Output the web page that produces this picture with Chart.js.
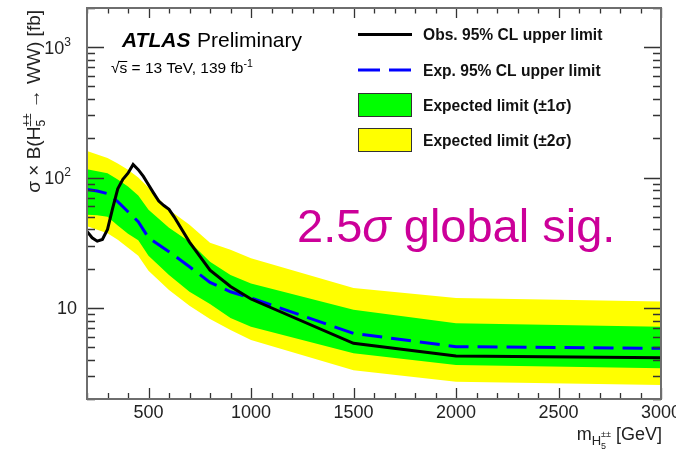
<!DOCTYPE html>
<html>
<head>
<meta charset="utf-8">
<script src="https://cdn.jsdelivr.net/npm/chart.js@4.4.1/dist/chart.umd.min.js"></script>
<style>
  html, body { margin: 0; padding: 0; background: #fff; }
  #wrap { width: 676px; height: 454px; }
</style>
</head>
<body>
<div id="wrap"><canvas id="limitChart" width="676" height="454"></canvas></div>
<script>
// --- Limit data (fb) ---
// mass points for the expected limit and its bands
const massPoints  = [200, 250, 300, 350, 400, 450, 500, 600, 700, 800, 900, 1000, 1500, 2000, 3000];
const expLimit    = [80.9, 78.8, 75.3, 65.4, 54.7, 45.9, 34.5, 27.0, 20.7, 15.7, 13.3, 11.9, 6.38, 5.04, 4.9];
const plus1Sigma  = [116, 112, 108, 96.5, 85.3, 72.7, 56.7, 41.2, 32.2, 22.6, 17.9, 15.4, 9.66, 7.62, 7.18];
const minus1Sigma = [51.9, 51.5, 50.1, 42.8, 37.1, 33.1, 25.1, 17.9, 13.3, 10.7, 8.37, 7.18, 4.49, 3.65, 3.44];
const plus2Sigma  = [160, 150, 141, 128, 115, 100, 83.8, 56.7, 43.5, 31.6, 27.9, 24.0, 14.2, 11.9, 11.2];
const minus2Sigma = [42.4, 39.8, 37.4, 33.4, 29.0, 25.1, 19.3, 13.7, 10.4, 8.22, 6.78, 5.67, 3.33, 2.71, 2.56];

// observed limit is sampled more finely at low mass
const obsMass  = [200, 225, 250, 275, 300, 325, 350, 375, 400, 425, 450, 475, 500, 525, 550, 575, 600, 625, 700, 800, 900, 1000, 1500, 2000, 3000];
const obsLimit = [38.6, 34.5, 32.5, 33.5, 40, 58, 82, 97, 108, 126, 115, 102, 88, 76, 66, 61, 57, 50, 32, 19.5, 14.6, 11.7, 5.35, 4.27, 4.15];

// axis ticks
const xMajorTicks = [500, 1000, 1500, 2000, 2500, 3000];
const yMajorTicks = [10, 100, 1000];
const yTickLabels = [['10', ''], ['10', '2'], ['10', '3']];

const xMinorTicks = [];
for (let m = 200; m <= 3000; m += 100) if (m % 500 !== 0) xMinorTicks.push(m);
const yMinorTicks = [];
[1, 10, 100, 1000].forEach(d => {
    for (let k = 2; k <= 9; k++) if (d * k <= 2000) yMinorTicks.push(d * k);
});

const FONT = '"Liberation Sans", Arial, Helvetica, sans-serif';

function toPoints(xs, ys) {
    return xs.map((x, i) => ({ x: x, y: ys[i] }));
}

// draws a run of text pieces with different sizes / offsets (sub- and superscripts)
function drawRich(ctx, parts, x, y, align) {
    const fontOf = p => `${p.italic ? 'italic ' : ''}${p.bold ? 'bold ' : ''}${p.size}px ${FONT}`;
    let total = 0;
    parts.forEach(p => {
        ctx.font = fontOf(p);
        if (!p.stack) total += ctx.measureText(p.t).width;
    });
    let cx = align === 'right' ? x - total : x;
    ctx.textAlign = 'left';
    ctx.textBaseline = 'alphabetic';
    parts.forEach(p => {
        ctx.font = fontOf(p);
        ctx.fillText(p.t, cx, y + (p.dy || 0));
        if (!p.stack) cx += ctx.measureText(p.t).width;
    });
}

// --- ROOT-style frame, inward ticks and all annotation text ---
const rootFrame = {
    id: 'rootFrame',
    afterDatasetsDraw(chart) {
        const { ctx, chartArea: a, scales: { x, y } } = chart;
        ctx.save();

        // ticks on all four sides, pointing into the frame
        ctx.strokeStyle = '#333';
        ctx.lineWidth = 1.3;
        ctx.beginPath();
        const xTick = (v, len) => {
            const px = Math.round(x.getPixelForValue(v)) + 0.5;
            ctx.moveTo(px, a.bottom); ctx.lineTo(px, a.bottom - len);
            ctx.moveTo(px, a.top); ctx.lineTo(px, a.top + len * 0.9);
        };
        const yTick = (v, len) => {
            const py = Math.round(y.getPixelForValue(v)) + 0.5;
            ctx.moveTo(a.left, py); ctx.lineTo(a.left + len, py);
            ctx.moveTo(a.right, py); ctx.lineTo(a.right - len, py);
        };
        xMinorTicks.forEach(v => xTick(v, 6));
        xMajorTicks.forEach(v => xTick(v, 11));
        yMinorTicks.forEach(v => yTick(v, 8));
        yMajorTicks.forEach(v => yTick(v, 17));
        ctx.stroke();

        // frame
        ctx.strokeStyle = '#6e6e6e';
        ctx.lineWidth = 2;
        ctx.strokeRect(a.left, a.top, a.right - a.left, a.bottom - a.top);

        // tick labels
        ctx.fillStyle = '#222';
        ctx.font = `18px ${FONT}`;
        ctx.textAlign = 'center';
        ctx.textBaseline = 'alphabetic';
        xMajorTicks.forEach(v => ctx.fillText(String(v), x.getPixelForValue(v), 418));

        yMajorTicks.forEach((v, i) => {
            const py = y.getPixelForValue(v);
            const [base, exp] = yTickLabels[i];
            if (exp) {
                drawRich(ctx, [
                    { t: base, size: 18 },
                    { t: exp, size: 12, dy: -8 }
                ], 71, py + 6.5, 'right');
            } else {
                drawRich(ctx, [{ t: base, size: 18 }], 77, py + 6.5, 'right');
            }
        });

        // axis titles
        ctx.fillStyle = '#222';
        drawRich(ctx, [
            { t: 'm', size: 18 },
            { t: 'H', size: 13, dy: 5 },
            { t: '5', size: 9, dy: 9, stack: true },
            { t: '±±', size: 9, dy: -3 },
            { t: ' [GeV]', size: 18 }
        ], 662, 440, 'right');

        ctx.save();
        ctx.translate(40, 10);
        ctx.rotate(-Math.PI / 2);
        drawRich(ctx, [
            { t: 'σ × B(H', size: 19 },
            { t: '5', size: 12, dy: 5, stack: true },
            { t: '±±', size: 12, dy: -9 },
            { t: ' → WW) [fb]', size: 19 }
        ], 0, 0, 'right');
        ctx.restore();

        // experiment label
        ctx.fillStyle = '#000';
        drawRich(ctx, [{ t: 'ATLAS', size: 21, bold: true, italic: true }], 122, 47);
        drawRich(ctx, [{ t: 'Preliminary', size: 21 }], 197, 47);
        ctx.font = `15.5px ${FONT}`;
        ctx.fillText('√', 111, 73);
        const rw = ctx.measureText('√').width;
        const sw = ctx.measureText('s').width;
        ctx.fillRect(111 + rw - 1, 61, sw + 1, 1);
        drawRich(ctx, [
            { t: 's = 13 TeV, 139 fb', size: 15.5 },
            { t: '-1', size: 10.5, dy: -6 }
        ], 111 + rw, 73);

        // legend
        const lx0 = 358, lx1 = 412, tx = 423;
        const rows = [34.5, 70, 105, 140];
        ctx.lineWidth = 3;
        ctx.strokeStyle = '#000';
        ctx.beginPath(); ctx.moveTo(lx0, rows[0]); ctx.lineTo(lx1, rows[0]); ctx.stroke();
        ctx.strokeStyle = '#0000ff';
        ctx.setLineDash([22, 9]);
        ctx.beginPath(); ctx.moveTo(lx0, rows[1]); ctx.lineTo(lx1, rows[1]); ctx.stroke();
        ctx.setLineDash([]);
        ctx.lineWidth = 1;
        ctx.strokeStyle = '#333';
        ctx.fillStyle = '#00ff00';
        ctx.fillRect(lx0, 93, lx1 - lx0, 24);
        ctx.strokeRect(lx0 + 0.5, 93.5, lx1 - lx0 - 1, 23);
        ctx.fillStyle = '#ffff00';
        ctx.fillRect(lx0, 128, lx1 - lx0, 24);
        ctx.strokeRect(lx0 + 0.5, 128.5, lx1 - lx0 - 1, 23);

        ctx.fillStyle = '#111';
        const legendText = [
            'Obs. 95% CL upper limit',
            'Exp. 95% CL upper limit',
            'Expected limit (±1σ)',
            'Expected limit (±2σ)'
        ];
        legendText.forEach((t, i) => drawRich(ctx, [{ t: t, size: 15.6, bold: true }], tx, rows[i] + 5.5));

        // significance note
        ctx.fillStyle = 'rgb(204, 0, 153)';
        drawRich(ctx, [
            { t: '2.5', size: 47 },
            { t: 'σ', size: 47, italic: true },
            { t: ' global sig.', size: 47 }
        ], 297, 242);

        ctx.restore();
    }
};

const ctx = document.getElementById('limitChart').getContext('2d');
new Chart(ctx, {
    type: 'line',
    data: {
        datasets: [
            {
                label: 'Obs. 95% CL upper limit',
                data: toPoints(obsMass, obsLimit),
                borderColor: '#000',
                borderWidth: 3,
                fill: false
            },
            {
                label: 'Exp. 95% CL upper limit',
                data: toPoints(massPoints, expLimit),
                borderColor: '#0000ff',
                borderWidth: 3,
                borderDash: [20, 9],
                fill: false
            },
            {
                label: 'Expected limit (+1σ)',
                data: toPoints(massPoints, plus1Sigma),
                borderColor: 'rgba(0,0,0,0)',
                borderWidth: 0,
                backgroundColor: '#00ff00',
                fill: '+1'
            },
            {
                label: 'Expected limit (-1σ)',
                data: toPoints(massPoints, minus1Sigma),
                borderColor: 'rgba(0,0,0,0)',
                borderWidth: 0,
                fill: false
            },
            {
                label: 'Expected limit (+2σ)',
                data: toPoints(massPoints, plus2Sigma),
                borderColor: 'rgba(0,0,0,0)',
                borderWidth: 0,
                backgroundColor: '#ffff00',
                fill: '+1'
            },
            {
                label: 'Expected limit (-2σ)',
                data: toPoints(massPoints, minus2Sigma),
                borderColor: 'rgba(0,0,0,0)',
                borderWidth: 0,
                fill: false
            }
        ]
    },
    options: {
        responsive: false,
        animation: false,
        layout: { padding: { left: 87, right: 15, top: 8, bottom: 55 } },
        elements: { point: { radius: 0 }, line: { tension: 0 } },
        plugins: { legend: { display: false }, tooltip: { enabled: false } },
        scales: {
            x: { type: 'linear', min: 200, max: 3000, display: false },
            y: { type: 'logarithmic', min: 2, max: 2000, display: false }
        }
    },
    plugins: [rootFrame]
});
</script>
</body>
</html>
